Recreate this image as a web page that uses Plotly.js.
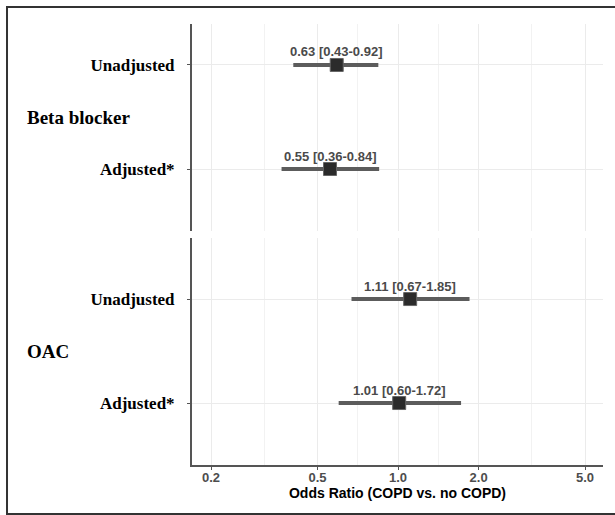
<!DOCTYPE html>
<html>
<head>
<meta charset="utf-8">
<script src="https://cdn.plot.ly/plotly-3.0.1.min.js"></script>
<style>html,body{margin:0;padding:0;background:#fff;}#chart{width:615px;height:515px;}</style>
</head>
<body>
<div id="chart"></div>
<script>
// Data
const groups = ["Beta blocker", "OAC"];
const rowLabels = ["Unadjusted", "Adjusted*"];
// plotted odds ratios and CI ends (as drawn), per group: [Unadjusted, Adjusted*]
const bbOR = [0.59, 0.557];
const bbLo = [0.406, 0.367];
const bbHi = [0.844, 0.85];
const oacOR = [1.11, 1.01];
const oacLo = [0.67, 0.60];
const oacHi = [1.85, 1.72];
const bbText = ["0.63 [0.43-0.92]", "0.55 [0.36-0.84]"];
const oacText = ["1.11 [0.67-1.85]", "1.01 [0.60-1.72]"];
const rowPos = [2, 1];
const xTickVals = [0.2, 0.5, 1.0, 2.0, 5.0];
const xTickText = ["0.2", "0.5", "1.0", "2.0", "5.0"];
const xMinorVals = [0.3162, 0.7071, 1.4142, 3.1623];

function trace(or, lo, hi, yaxis) {
  return {
    type: 'scatter', mode: 'markers',
    x: or, y: rowPos, xaxis: 'x', yaxis: yaxis,
    marker: {symbol: 'square', size: 13, color: '#2b2b2b', line: {color: '#666', width: 1}},
    error_x: {type: 'data', symmetric: false,
      array: hi.map((h, i) => h - or[i]),
      arrayminus: lo.map((l, i) => or[i] - l),
      thickness: 4, width: 0, color: '#5c5c5c'},
    hoverinfo: 'skip', showlegend: false
  };
}
const data = [trace(bbOR, bbLo, bbHi, 'y'), trace(oacOR, oacLo, oacHi, 'y2')];

const annotations = [];
function addLabels(or, txt, yref) {
  or.forEach((v, i) => annotations.push({
    x: Math.log10(v), y: rowPos[i], xref: 'x', yref: yref, text: txt[i],
    showarrow: false, yshift: 13,
    font: {family: 'Liberation Sans, Arial, sans-serif', size: 13, color: '#4a4a4a', weight: 'bold'}
  }));
}
addLabels(bbOR, bbText, 'y');
addLabels(oacOR, oacText, 'y2');
[['y', groups[0]], ['y2', groups[1]]].forEach(([yr, g]) => annotations.push({
  x: -0.406, xref: 'paper', xanchor: 'left', y: 1.5, yref: yr, text: g, showarrow: false,
  font: {family: 'Liberation Serif, Times New Roman, serif', size: 19, color: '#000', weight: 'bold'}
}));

const yaxisCommon = {
  tickvals: rowPos, ticktext: rowLabels,
  tickfont: {family: 'Liberation Serif, Times New Roman, serif', size: 17, color: '#000', weight: 'bold'},
  showline: true, linecolor: '#555', linewidth: 2,
  ticks: 'outside', ticklen: 3, tickcolor: '#555', tickwidth: 1,
  ticklabelstandoff: 9,
  showgrid: true, gridcolor: '#ebebeb', gridwidth: 1,
  zeroline: false, anchor: 'x', fixedrange: true
};

const shapes = [
  {type: 'line', xref: 'x', yref: 'y domain', x0: 0, x1: 0, y0: 0, y1: 1, line: {color: '#444', width: 1, dash: 'dash'}},
  {type: 'line', xref: 'x', yref: 'y2 domain', x0: 0, x1: 0, y0: 0, y1: 1, line: {color: '#444', width: 1, dash: 'dash'}},
  {type: 'path', xref: 'paper', yref: 'paper',
   path: 'M 1.05 1.0385 L -0.4501 1.0385 L -0.4501 -0.1111 L 1.05 -0.1111',
   line: {color: '#333', width: 2}}
];

const layout = {
  width: 615, height: 515,
  margin: {l: 192, r: 12, t: 24, b: 50},
  paper_bgcolor: '#fff', plot_bgcolor: '#fff',
  xaxis: {
    type: 'log', range: [-0.770, 0.766], anchor: 'y2',
    tickvals: xTickVals, ticktext: xTickText,
    tickfont: {family: 'Liberation Sans, Arial, sans-serif', size: 13, color: '#4d4d4d', weight: 'bold'},
    showline: true, linecolor: '#555', linewidth: 2,
    ticks: 'outside', ticklen: 3, tickcolor: '#555',
    ticklabelstandoff: -4,
    showgrid: true, gridcolor: '#ebebeb', gridwidth: 1,
    minor: {tickvals: xMinorVals, showgrid: true, gridcolor: '#f2f2f2', gridwidth: 1, ticks: ''},
    zeroline: false,
    title: {text: 'Odds Ratio (COPD vs. no COPD)', standoff: 1,
      font: {family: 'Liberation Sans, Arial, sans-serif', size: 14, color: '#000', weight: 'bold'}}
  },
  yaxis: Object.assign({}, yaxisCommon, {domain: [0.5306, 1], range: [0.404, 2.394]}),
  yaxis2: Object.assign({}, yaxisCommon, {domain: [0, 0.5147], range: [0.404, 2.587]}),
  annotations: annotations,
  shapes: shapes
};

Plotly.newPlot('chart', data, layout, {displayModeBar: false, staticPlot: true});
</script>
</body>
</html>
